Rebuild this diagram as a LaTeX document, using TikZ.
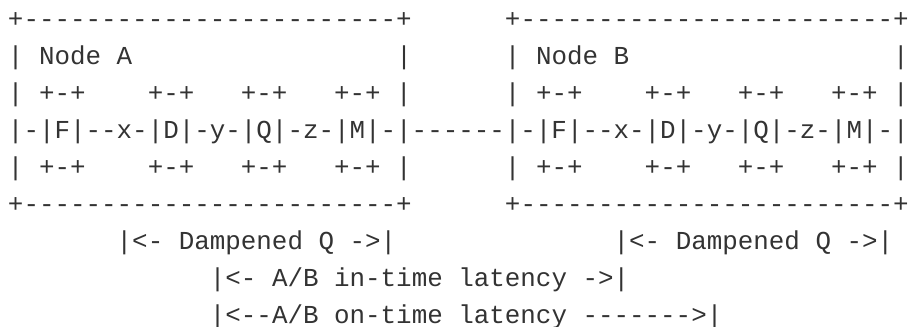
\documentclass[tikz,border=0pt]{standalone}
\usepackage{fontspec}
\setmonofont{Liberation Mono}
\definecolor{txt}{HTML}{333333}
\begin{document}
\begin{tikzpicture}[x=1pt,y=1pt,
  asciiline/.style={anchor=base west, inner sep=0pt, outer sep=0pt,
    font=\ttfamily\fontsize{25.88}{30}\selectfont, text=txt}]
\useasboundingbox (0,0) rectangle (914,-327);
\fill[white] (0,0) rectangle (914,-327);
\def\cw{15.53}
\node[asciiline] (l1) at (8,-27) {+------------------------+~~~~~~+------------------------+};
\node[asciiline] (l2) at (8,-64) {|~Node~A~~~~~~~~~~~~~~~~~|~~~~~~|~Node~B~~~~~~~~~~~~~~~~~|};
\node[asciiline] (l3) at (8,-101) {|~+-+~~~~+-+~~~+-+~~~+-+~|~~~~~~|~+-+~~~~+-+~~~+-+~~~+-+~|};
\node[asciiline] (l4) at (8,-138) {|-|F|--x-|D|-y-|Q|-z-|M|-|------|-|F|--x-|D|-y-|Q|-z-|M|-|};
\node[asciiline] (l5) at (8,-175) {|~+-+~~~~+-+~~~+-+~~~+-+~|~~~~~~|~+-+~~~~+-+~~~+-+~~~+-+~|};
\node[asciiline] (l6) at (8,-212) {+------------------------+~~~~~~+------------------------+};
\node[asciiline] (l7a) at ({8+7*\cw},-249) {|<-~Dampened~Q~->|};
\node[asciiline] (l7b) at ({8+39*\cw},-249) {|<-~Dampened~Q~->|};
\node[asciiline] (l8) at ({8+13*\cw},-286) {|<-~A/B~in-time~latency~->|};
\node[asciiline] (l9) at ({8+13*\cw},-323) {|<--A/B~on-time~latency~------->|};
\end{tikzpicture}
\end{document}
